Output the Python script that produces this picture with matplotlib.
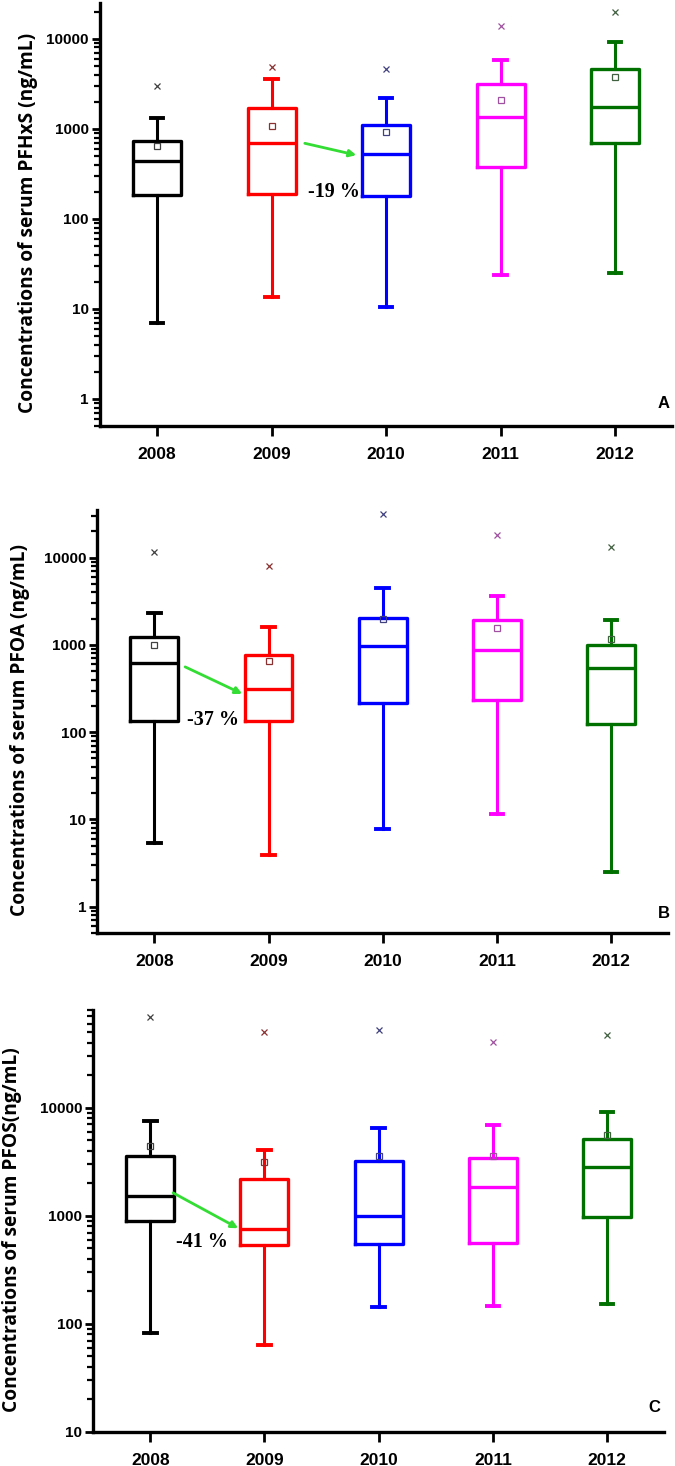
import numpy as np
import matplotlib
matplotlib.use("Agg")
import matplotlib.pyplot as plt
from matplotlib import ticker

years = ['2008', '2009', '2010', '2011', '2012']
colors = ['black', '#ff0000', '#0000ff', '#ff00ff', '#007000']
mean_colors = ['#404040', '#8a3030', '#404080', '#a050a0', '#406040']

# PFHxS (panel A)
pfhxs_whislo = [7.0, 13.7, 10.6, 23.5, 25.3]
pfhxs_q1 = [183, 188, 179, 376, 697]
pfhxs_med = [437, 697, 526, 1350, 1750]
pfhxs_q3 = [733, 1700, 1100, 3170, 4650]
pfhxs_whishi = [1320, 3600, 2200, 5870, 9300]
pfhxs_mean = [643, 1080, 925, 2100, 3780]
pfhxs_max = [3000, 4900, 4660, 13700, 20000]

# PFOA (panel B)
pfoa_whislo = [5.4, 3.9, 7.8, 11.6, 2.5]
pfoa_q1 = [135, 135, 217, 235, 125]
pfoa_med = [624, 315, 980, 880, 550]
pfoa_q3 = [1240, 770, 2050, 1950, 1000]
pfoa_whishi = [2330, 1620, 4500, 3650, 1950]
pfoa_mean = [1000, 660, 2000, 1580, 1170]
pfoa_max = [11700, 8100, 31700, 18200, 13300]

# PFOS (panel C)
pfos_whislo = [83, 64, 142, 145, 154]
pfos_q1 = [890, 535, 545, 556, 970]
pfos_med = [1520, 750, 1000, 1850, 2820]
pfos_q3 = [3560, 2190, 3230, 3400, 5170]
pfos_whishi = [7560, 4040, 6440, 6900, 9100]
pfos_mean = [4450, 3170, 3560, 3560, 5600]
pfos_max = [69000, 50000, 51800, 40600, 47500]

changes = ['-19 %', '-37 %', '-41 %']
ylabels = ['Concentrations of serum PFHxS (ng/mL)',
           'Concentrations of serum PFOA (ng/mL)',
           'Concentrations of serum PFOS(ng/mL)']
panel_names = ['A', 'B', 'C']

panels = [
    (pfhxs_whislo, pfhxs_q1, pfhxs_med, pfhxs_q3, pfhxs_whishi, pfhxs_mean, pfhxs_max),
    (pfoa_whislo, pfoa_q1, pfoa_med, pfoa_q3, pfoa_whishi, pfoa_mean, pfoa_max),
    (pfos_whislo, pfos_q1, pfos_med, pfos_q3, pfos_whishi, pfos_mean, pfos_max),
]

# layout of each panel (figure fractions) and its extras
axes_rects = [[0.148, 0.7094, 0.848, 0.2886],
              [0.144, 0.3636, 0.846, 0.2884],
              [0.138, 0.0232, 0.846, 0.2878]]
ylims = [(0.5, 25000), (0.5, 35000), (10, 80000)]
yticks = [[1, 10, 100, 1000, 10000], [1, 10, 100, 1000, 10000], [10, 100, 1000, 10000]]
arrows = [((2.29, 690), (2.74, 510)), ((1.27, 560), (1.77, 275)), ((1.20, 1630), (1.77, 767))]
text_pos = [(2.54, 198), (1.51, 138), (1.45, 570)]
label_x = [-0.108, -0.117, -0.124]
name_pos = [(0.984, 0.054), (0.993, 0.047), (0.982, 0.057)]

fig = plt.figure(figsize=(6.75, 14.66), dpi=100)
pos = np.arange(1, len(years) + 1)

for i, (wlo, q1, med, q3, whi, mean, mx) in enumerate(panels):
    ax = fig.add_axes(axes_rects[i])
    stats = []
    for j in range(len(years)):
        stats.append(dict(whislo=wlo[j], q1=q1[j], med=med[j], q3=q3[j],
                          whishi=whi[j], mean=mean[j], fliers=[mx[j]]))
    bp = ax.bxp(stats, positions=pos, widths=0.42, capwidths=0.11,
                showmeans=True, showfliers=True)
    for j, c in enumerate(colors):
        bp['boxes'][j].set(color=c, linewidth=2.4)
        bp['medians'][j].set(color=c, linewidth=2.4)
        for k in (2 * j, 2 * j + 1):
            bp['whiskers'][k].set(color=c, linewidth=2.2)
            bp['caps'][k].set(color=c, linewidth=2.8)
        bp['means'][j].set(marker='s', markerfacecolor='none',
                           markeredgecolor=mean_colors[j], markersize=4, markeredgewidth=0.9)
        bp['fliers'][j].set(marker='x', markeredgecolor=mean_colors[j],
                            markersize=5, markeredgewidth=0.9)

    ax.set_yscale('log')
    ax.set_ylim(ylims[i])
    ax.set_xlim(0.5, 5.5)
    ax.set_yticks(yticks[i])
    ax.yaxis.set_major_formatter(ticker.FuncFormatter(lambda v, p: f'{v:g}'))
    ax.yaxis.set_minor_locator(ticker.LogLocator(base=10, subs=np.arange(2, 10)))
    ax.yaxis.set_minor_formatter(ticker.NullFormatter())
    ax.set_xticks(pos)
    ax.set_xticklabels(years)

    for s in ['top', 'right']:
        ax.spines[s].set_visible(False)
    for s in ['left', 'bottom']:
        ax.spines[s].set_linewidth(2.4)
    ax.tick_params(axis='y', which='major', direction='out', length=6, width=2,
                   labelsize=11, pad=2)
    ax.tick_params(axis='y', which='minor', direction='out', length=4, width=1.6)
    ax.tick_params(axis='x', which='major', direction='out', length=7, width=2,
                   labelsize=12.5, pad=8)
    for lab in ax.get_xticklabels() + ax.get_yticklabels():
        lab.set_fontweight('bold')
        lab.set_family('Liberation Sans')

    ax.set_ylabel(ylabels[i], fontsize=13.8, fontweight='bold', family='Open Sans')
    ax.yaxis.set_label_coords(label_x[i], 0.48)

    ax.annotate('', xy=arrows[i][1], xytext=arrows[i][0],
                arrowprops=dict(arrowstyle='-|>', color='#33dd33', lw=2,
                                mutation_scale=10, shrinkA=0, shrinkB=0))
    ax.text(text_pos[i][0], text_pos[i][1], changes[i], ha='center', va='center',
            fontsize=14.5, fontweight='bold', family='Liberation Serif')
    ax.text(name_pos[i][0], name_pos[i][1], panel_names[i], transform=ax.transAxes,
            ha='center', va='center', fontsize=12, fontweight='bold', family='Liberation Sans')

plt.savefig('out.png', dpi=100)
